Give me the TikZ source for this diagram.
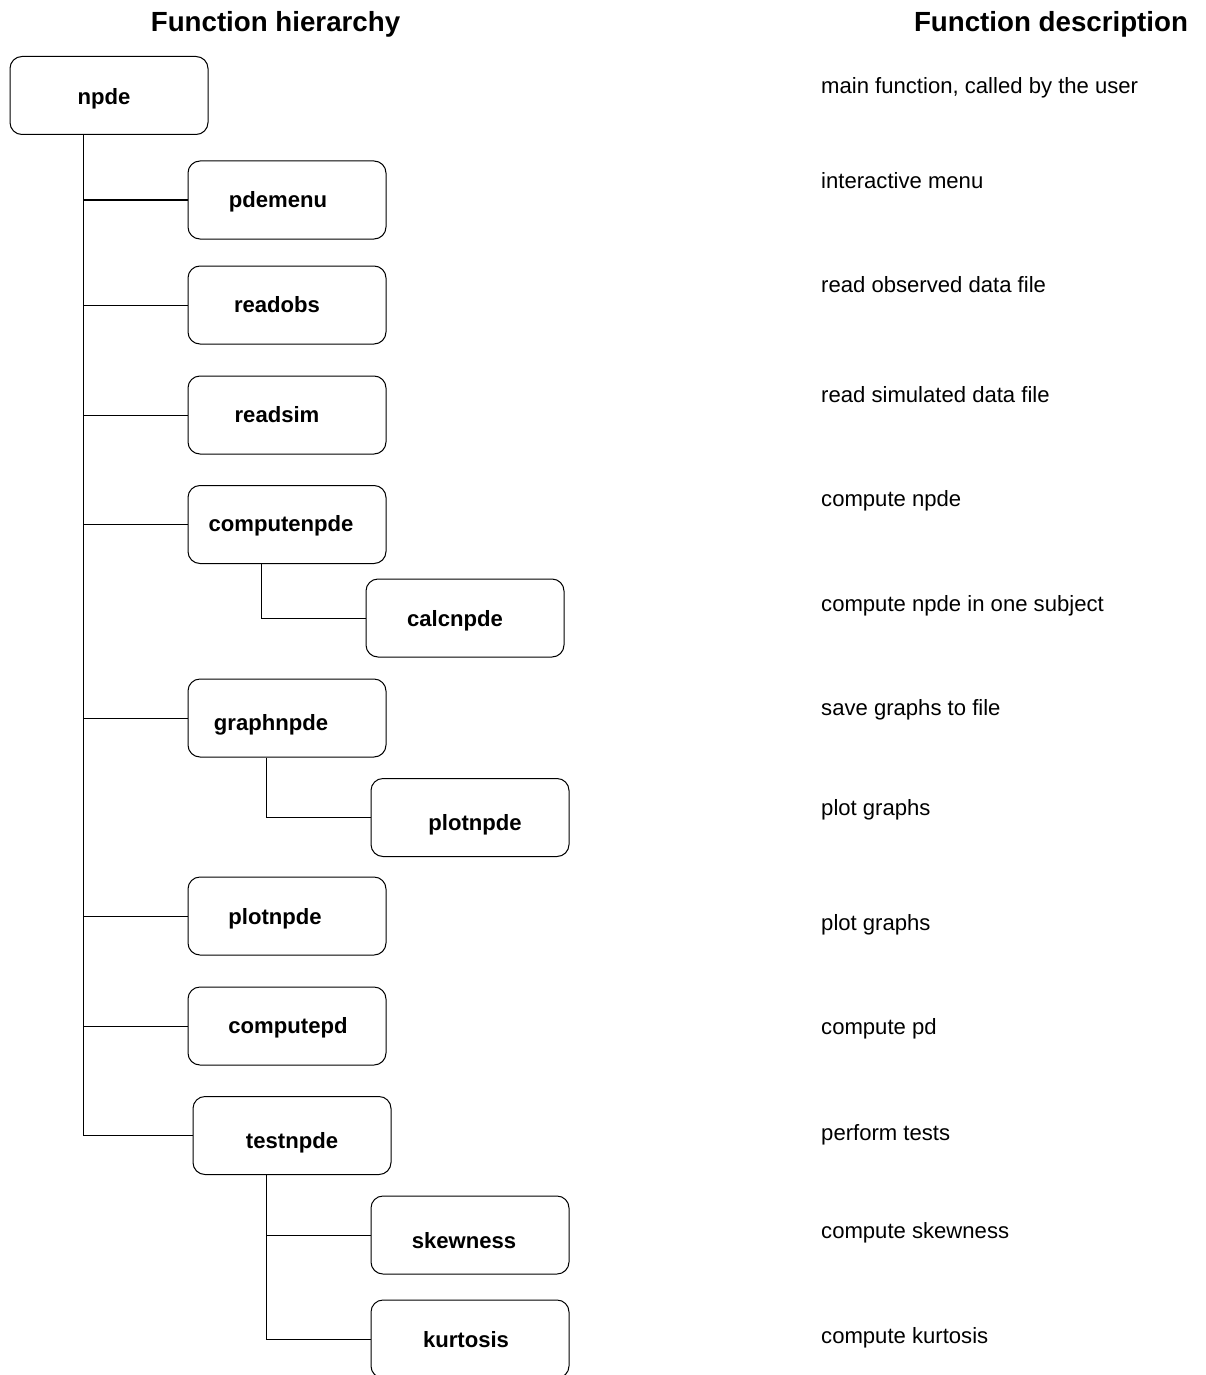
\documentclass[tikz,border=0pt]{standalone}
\usepackage{fontspec}
\setmainfont{Liberation Sans}
\begin{document}
\begin{tikzpicture}[x=1pt,y=-1pt,
  box/.style={draw, rounded corners=12pt, minimum width=198pt, minimum height=78pt, inner sep=0pt, line width=1pt},
  lbl/.style={font=\fontsize{22.1}{24}\selectfont\bfseries, inner sep=0pt, text height=15.8pt, text depth=4.6pt},
  desc/.style={font=\fontsize{22.1}{24}\selectfont, anchor=west, inner sep=0pt, text height=15.8pt, text depth=4.6pt},
  ttl/.style={font=\fontsize{27.7}{30}\selectfont\bfseries, inner sep=0pt},
  conn/.style={line width=1pt}]
\useasboundingbox (0,0) rectangle (1205,1375);
\clip (0,0) rectangle (1205,1375);

% titles
\node[ttl] (th) at (275.5,24) {Function hierarchy};
\node[ttl] (td) at (1051,24) {Function description};

% boxes
\node[box] (npde) at (109,95.5) {};
\node[box] (pdemenu) at (287,200) {};
\node[box] (readobs) at (287,305) {};
\node[box] (readsim) at (287,415) {};
\node[box] (computenpde) at (287,524.5) {};
\node[box] (calcnpde) at (465,618) {};
\node[box] (graphnpde) at (287,718) {};
\node[box] (plotnpdeb) at (470,817.5) {};
\node[box] (plotnpde) at (287,916) {};
\node[box] (computepd) at (287,1026) {};
\node[box] (testnpde) at (292,1135.5) {};
\node[box] (skewness) at (470,1235) {};
\node[box] (kurtosis) at (470,1339) {};

% box labels
\node[lbl] (l-npde) at (104,99) {npde};
\node[lbl] (l-pdemenu) at (278,202) {pdemenu};
\node[lbl] (l-readobs) at (277,307) {readobs};
\node[lbl] (l-readsim) at (277,417) {readsim};
\node[lbl] (l-computenpde) at (281,526) {computenpde};
\node[lbl] (l-calcnpde) at (455,621) {calcnpde};
\node[lbl] (l-graphnpde) at (271,725) {graphnpde};
\node[lbl] (l-plotnpdeb) at (475,825) {plotnpde};
\node[lbl] (l-plotnpde) at (275,919) {plotnpde};
\node[lbl] (l-computepd) at (288,1028) {computepd};
\node[lbl] (l-testnpde) at (292,1143) {testnpde};
\node[lbl] (l-skewness) at (464,1243) {skewness};
\node[lbl] (l-kurtosis) at (466,1342) {kurtosis};

% descriptions
\node[desc] (d1) at (821,88) {main function, called by the user};
\node[desc] (d2) at (821,183) {interactive menu};
\node[desc] (d3) at (821,287) {read observed data file};
\node[desc] (d4) at (821,397) {read simulated data file};
\node[desc] (d5) at (821,501) {compute npde};
\node[desc] (d6) at (821,606) {compute npde in one subject};
\node[desc] (d7) at (821,710) {save graphs to file};
\node[desc] (d8) at (821,810) {plot graphs};
\node[desc] (d9) at (821,925) {plot graphs};
\node[desc] (d10) at (821,1029) {compute pd};
\node[desc] (d11) at (821,1135) {perform tests};
\node[desc] (d12) at (821,1233) {compute skewness};
\node[desc] (d13) at (821,1338) {compute kurtosis};

% connectors
\coordinate (tx) at (83,0);
\coordinate (sx1) at (261,0);
\coordinate (sx2) at (266,0);
\coordinate (sx3) at (266,0);
\draw[conn] (tx |- npde.south) -- (tx |- testnpde.west) -- (testnpde.west);
\foreach \n in {pdemenu,readobs,readsim,computenpde,graphnpde,plotnpde,computepd}
  \draw[conn] (tx |- \n.west) -- (\n.west);
\draw[conn] (sx1 |- computenpde.south) -- (sx1 |- calcnpde.west) -- (calcnpde.west);
\draw[conn] (sx2 |- graphnpde.south) -- (sx2 |- plotnpdeb.west) -- (plotnpdeb.west);
\draw[conn] (sx3 |- testnpde.south) -- (sx3 |- kurtosis.west) -- (kurtosis.west);
\draw[conn] (sx3 |- skewness.west) -- (skewness.west);
\end{tikzpicture}
\end{document}
